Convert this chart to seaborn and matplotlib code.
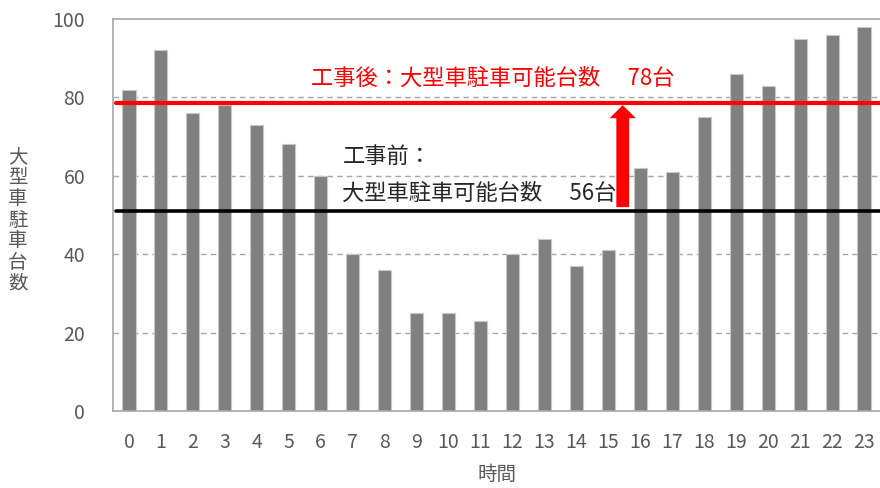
import matplotlib
matplotlib.use('Agg')
import matplotlib.pyplot as plt
import seaborn as sns
import pandas as pd

# データ
hours = list(range(24))
counts = [82, 92, 76, 78, 73, 68, 60, 40, 36, 25, 25, 23,
          40, 44, 37, 41, 62, 61, 75, 86, 83, 95, 96, 98]
after_line = 78.5   # 工事後ライン
before_line = 51    # 工事前ライン
after_label = '工事後：大型車駐車可能台数\u3000 78台'
before_label1 = '工事前：'
before_label2 = '大型車駐車可能台数\u3000 56台'
ylabel_text = '大型車駐車台数'
xlabel_text = '時間'

df = pd.DataFrame({'hour': hours, 'count': counts})

sns.set_style('white')
plt.rcParams['font.family'] = ['Noto Sans CJK JP', 'DejaVu Sans']

fig = plt.figure(figsize=(8.8, 4.88), dpi=100)
ax = fig.add_axes([113 / 880, 1 - 411 / 488, 1 - 113 / 880, (411 - 19) / 488])

sns.barplot(data=df, x='hour', y='count', color='#808080', saturation=1,
            width=0.41, edgecolor='#c8c8c8', linewidth=0.8, ax=ax, zorder=2)

ax.set_xlim(-0.5, 23.5)
ax.set_ylim(0, 100)
ax.set_yticks([0, 20, 40, 60, 80, 100])

for y in [20, 40, 60, 80]:
    ax.axhline(y, color='#a6a6a6', lw=1, ls=(0, (4, 3)), zorder=1)

for s in ['left', 'bottom', 'top']:
    ax.spines[s].set_color('#a6a6a6')
    ax.spines[s].set_linewidth(1.2)
ax.spines['right'].set_visible(False)

ax.tick_params(axis='both', length=0, labelsize=14, labelcolor='#595959')
ax.tick_params(axis='y', pad=20)
ax.tick_params(axis='x', pad=15)

ax.set_xlabel(xlabel_text, fontsize=14, color='#595959', labelpad=8)
ax.set_ylabel('')

# 目標ライン
ax.axhline(after_line, xmin=0.004, color='#ff0000', lw=3, zorder=3)
ax.axhline(before_line, xmin=0.004, color='#000000', lw=2.6, zorder=3)

# 矢印
ax.arrow(15.45, 52, 0, after_line - 0.5 - 52, width=0.4, head_width=0.82,
         head_length=3.3, length_includes_head=True, color='#ff0000',
         lw=0, zorder=4)

ax.text(5.71, 84.9, after_label, color='#ff0000', fontsize=16,
        ha='left', va='center')
ax.text(6.68, 64.9, before_label1, color='#262626', fontsize=16,
        ha='left', va='center')
ax.text(6.68, 55.5, before_label2, color='#262626', fontsize=16,
        ha='left', va='center')

fig.text(18 / 880, 1 - 220 / 488, '\n'.join(ylabel_text), fontsize=14,
         color='#595959', ha='center', va='center', linespacing=1.0)

fig.savefig('out.png', dpi=100)
